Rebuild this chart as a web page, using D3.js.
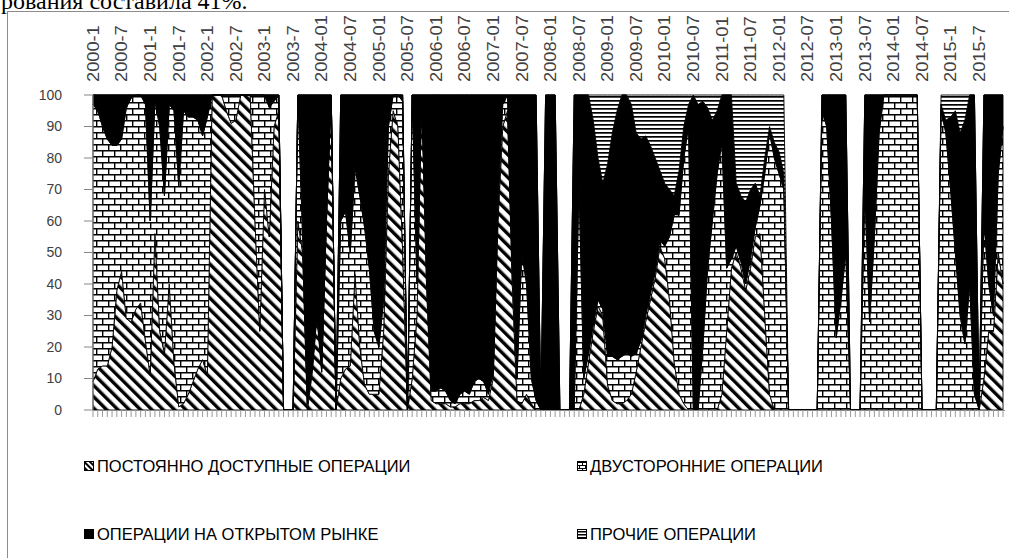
<!DOCTYPE html>
<html><head><meta charset="utf-8">
<script src="https://cdn.jsdelivr.net/npm/d3@7"></script>
<style>
html,body{margin:0;padding:0;background:#fff;}
svg{display:block;}
</style></head>
<body>
<svg id="c" width="1009" height="558"></svg>
<script>
// ---- data (shares, %, monthly 2000-01 .. 2015-12) ----
const tickLabels = ["2000-1","2000-7","2001-1","2001-7","2002-1","2002-7","2003-1","2003-7",
  "2004-01","2004-07","2005-01","2005-07","2006-01","2006-07","2007-01","2007-07","2008-01","2008-07",
  "2009-01","2009-07","2010-01","2010-07","2011-01","2011-07","2012-01","2012-07","2013-01","2013-07",
  "2014-01","2014-07","2015-1","2015-7"];
const yTicks = [0,10,20,30,40,50,60,70,80,90,100];
const seriesNames = ["ПОСТОЯННО ДОСТУПНЫЕ  ОПЕРАЦИИ","ДВУСТОРОННИЕ  ОПЕРАЦИИ","ОПЕРАЦИИ  НА ОТКРЫТОМ РЫНКЕ","ПРОЧИЕ ОПЕРАЦИИ"];

const standing = [
  9,13,14,14,20,38,44,29,28,32,34,22,
  11,56,25,18,40,15,1,2,5,9,13,16,
  11,100,100,100,95,91,92,100,100,100,60,25,
  70,55,90,95,0,0,0,60,50,0,12,30,
  12,60,100,0,10,13,14,43,20,8,5,5,
  5,25,75,95,90,50,0,10,30,100,40,3,
  2,2,2,1,1,2,2,2,3,3,4,3,
  10,60,90,95,40,3,2,5,2,0,0,0,
  0,0,0,0,0,0,0,5,15,25,33,30,
  8,3,2,2,3,5,12,20,28,35,42,52,
  48,35,15,5,2,0,0,0,0,0,0,0,
  5,25,45,50,45,38,45,55,56,30,5,0,
  0,0,0,0,0,0,0,0,0,0,0,0,
  0,0,0,0,0,0,0,0,0,0,0,0,
  0,0,0,0,0,0,0,0,0,0,0,0,
  0,0,0,0,0,0,0,10,25,25,50,40];
const bilateral = [
  88,82,76,72,64,46,42,67,71,68,66,75,
  49,42,65,50,57,80,70,93,88,84,79,71,
  82,0,0,0,5,9,8,0,0,0,40,75,
  30,41,8,5,0,0,0,40,5,2,1,1,
  1,2,0,0,50,50,36,34,48,50,40,20,
  15,10,15,5,10,48,0,90,10,0,5,3,
  4,5,4,2,1,3,4,3,6,7,5,2,
  2,5,7,5,5,7,48,35,8,3,0,0,
  0,0,0,0,0,0,72,5,3,2,2,2,
  9,14,14,15,15,12,6,2,2,2,2,2,
  4,20,47,57,78,90,0,0,20,45,60,75,
  80,20,3,2,2,2,3,3,9,45,83,80,
  75,70,0,0,0,0,0,0,0,95,90,60,
  23,35,50,0,0,0,70,28,55,88,100,100,
  100,100,100,100,100,100,0,0,0,0,95,88,
  70,50,30,21,40,5,0,50,15,5,25,50];
const openMarket = [
  3,5,10,14,16,16,14,4,1,0,0,3,
  40,2,10,32,3,5,29,5,7,7,8,13,
  7,0,0,0,0,0,0,0,0,0,0,0,
  0,4,2,0,0,0,0,0,45,98,87,69,
  87,38,0,0,40,37,50,23,32,42,55,75,
  80,65,10,0,0,2,0,0,60,0,55,94,
  94,93,94,97,98,95,94,95,91,90,91,95,
  88,35,3,0,55,90,50,60,90,97,0,100,
  100,100,0,0,0,100,28,90,82,65,45,40,
  61,71,79,83,82,80,70,64,57,47,36,22,
  20,15,6,14,10,7,100,97,78,51,32,20,
  15,55,52,20,21,26,22,14,3,5,2,5,
  7,5,0,0,0,0,0,0,0,5,10,40,
  77,65,50,0,0,0,30,72,45,12,0,0,
  0,0,0,0,0,0,0,0,0,0,2,4,
  23,45,58,71,60,95,0,40,60,70,25,10];
const other = [
  0,0,0,0,0,0,0,0,0,0,0,0,
  0,0,0,0,0,0,0,0,0,0,0,0,
  0,0,0,0,0,0,0,0,0,0,0,0,
  0,0,0,0,0,0,0,0,0,0,0,0,
  0,0,0,0,0,0,0,0,0,0,0,0,
  0,0,0,0,0,0,0,0,0,0,0,0,
  0,0,0,0,0,0,0,0,0,0,0,0,
  0,0,0,0,0,0,0,0,0,0,0,0,
  0,0,0,0,0,0,0,0,0,8,20,28,
  22,12,5,0,0,3,12,14,13,16,20,24,
  28,30,32,24,10,3,0,3,2,4,8,5,
  0,0,0,28,32,34,30,28,32,20,10,15,
  18,25,0,0,0,0,0,0,0,0,0,0,
  0,0,0,0,0,0,0,0,0,0,0,0,
  0,0,0,0,0,0,0,0,0,0,3,8,
  7,5,12,8,0,0,0,0,0,0,0,0];

// ---- drawing ----
const svg = d3.select("#c");
const W = 1009, H = 558;
const x = d3.scaleLinear().domain([0, standing.length - 1]).range([93, 1003]);
const y = d3.scaleLinear().domain([0, 100]).range([410, 95]);

const defs = svg.append("defs");
const ph = defs.append("pattern").attr("id","hatch").attr("patternUnits","userSpaceOnUse")
  .attr("width",8).attr("height",8).attr("patternTransform","rotate(-45)");
ph.append("rect").attr("width",8).attr("height",8).attr("fill","#fff");
ph.append("rect").attr("x",0).attr("width",3.4).attr("height",8).attr("fill","#000");
const pb = defs.append("pattern").attr("id","brick").attr("patternUnits","userSpaceOnUse")
  .attr("width",12).attr("height",12);
pb.append("rect").attr("width",12).attr("height",12).attr("fill","#fff");
pb.append("path").attr("d","M0,0.7H12M0,6.7H12M0.7,0V6.7M6.7,6.7V12").attr("stroke","#000").attr("stroke-width",1.4).attr("fill","none");
const pl = defs.append("pattern").attr("id","hlines").attr("patternUnits","userSpaceOnUse")
  .attr("width",4).attr("height",4);
pl.append("rect").attr("width",4).attr("height",4).attr("fill","#fff");
pl.append("rect").attr("y",0).attr("width",4).attr("height",1.7).attr("fill","#000");
// small-scale patterns for the legend keys
const phs = defs.append("pattern").attr("id","hatchS").attr("patternUnits","userSpaceOnUse")
  .attr("width",4).attr("height",4).attr("patternTransform","rotate(-45)");
phs.append("rect").attr("width",4).attr("height",4).attr("fill","#fff");
phs.append("rect").attr("width",2).attr("height",4).attr("fill","#000");
const pbs = defs.append("pattern").attr("id","brickS").attr("patternUnits","userSpaceOnUse")
  .attr("width",6).attr("height",6);
pbs.append("rect").attr("width",6).attr("height",6).attr("fill","#fff");
pbs.append("path").attr("d","M0,0.5H6M0,3.5H6M0.5,0V3.5M3.5,3.5V6").attr("stroke","#000").attr("stroke-width",1).attr("fill","none");
const pls = defs.append("pattern").attr("id","hlinesS").attr("patternUnits","userSpaceOnUse")
  .attr("width",3).attr("height",3);
pls.append("rect").attr("width",3).attr("height",3).attr("fill","#fff");
pls.append("rect").attr("width",3).attr("height",1.5).attr("fill","#000");

const fills = ["url(#hatch)","url(#brick)","#000","url(#hlines)"];
const keyFills = ["url(#hatchS)","url(#brickS)","#000","url(#hlinesS)"];

// top document text (cropped by page edge, as in the source)
svg.append("text").attr("x",1).attr("y",9)
  .attr("font-family","'Liberation Serif','Times New Roman',serif").attr("font-size",24)
  .attr("fill","#000").text("рования составила 41%.");

// chart frame
svg.append("rect").attr("x",7.5).attr("y",11.5).attr("width",W+10).attr("height",H+10)
  .attr("fill","#fff").attr("stroke","#8c8c8c").attr("stroke-width",1);

// stacked areas
const table = standing.map((v,i) => ({i, s0: v, s1: bilateral[i], s2: openMarket[i], s3: other[i]}));
const layers = d3.stack().keys(["s0","s1","s2","s3"])(table);
const area = d3.area().x(d => x(d.data.i)).y0(d => y(d[0])).y1(d => y(d[1]));
svg.append("g").selectAll("path").data(layers).join("path")
  .attr("d", area).attr("fill", (d,k) => fills[k])
  .attr("stroke","#000").attr("stroke-width",0.9).attr("stroke-linejoin","round");

// y axis
const gy = svg.append("g");
gy.append("line").attr("x1",93).attr("x2",93).attr("y1",y(0)).attr("y2",y(100)).attr("stroke","#868686");
gy.selectAll("line.t").data(yTicks).join("line").attr("class","t")
  .attr("x1",84).attr("x2",93).attr("y1",d=>y(d)).attr("y2",d=>y(d)).attr("stroke","#868686");
gy.selectAll("text").data(yTicks).join("text")
  .attr("x",62).attr("y",d=>y(d)).attr("dy","0.35em").attr("text-anchor","end")
  .attr("font-family","'Liberation Sans',Arial,sans-serif").attr("font-size",14).attr("fill","#404040")
  .text(d=>d);

// x axis (bottom line + monthly ticks)
const gx = svg.append("g");
gx.append("line").attr("x1",93).attr("x2",1005).attr("y1",410.5).attr("y2",410.5).attr("stroke","#868686");
gx.selectAll("line.t").data(d3.range(standing.length)).join("line").attr("class","t")
  .attr("x1",d=>x(d)).attr("x2",d=>x(d)).attr("y1",410).attr("y2",417).attr("stroke","#9a9a9a").attr("stroke-width",1);

// top category labels
svg.append("g").selectAll("text").data(tickLabels).join("text")
  .attr("transform",(d,k)=>`translate(${x(k*6)},82) rotate(-90) scale(1.14,1)`)
  .attr("dy","0.36em").attr("text-anchor","start")
  .attr("font-family","'Liberation Sans',Arial,sans-serif").attr("font-size",16).attr("fill","#404040")
  .text(d=>d);

// legend
const legPos = [[84,466],[577,466],[84,534],[577,534]];
const lg = svg.append("g");
seriesNames.forEach((name,k) => {
  const [lx,ly] = legPos[k];
  lg.append("rect").attr("x",lx+0.5).attr("y",ly-4.5).attr("width",9).attr("height",9)
    .attr("fill",keyFills[k]).attr("stroke","#000").attr("stroke-width",1);
  lg.append("text").attr("x",lx+13).attr("y",ly+6)
    .attr("font-family","'Liberation Sans',Arial,sans-serif")
    .attr("font-size",16.5).attr("fill","#000").text(name);
});
</script>
</body></html>
